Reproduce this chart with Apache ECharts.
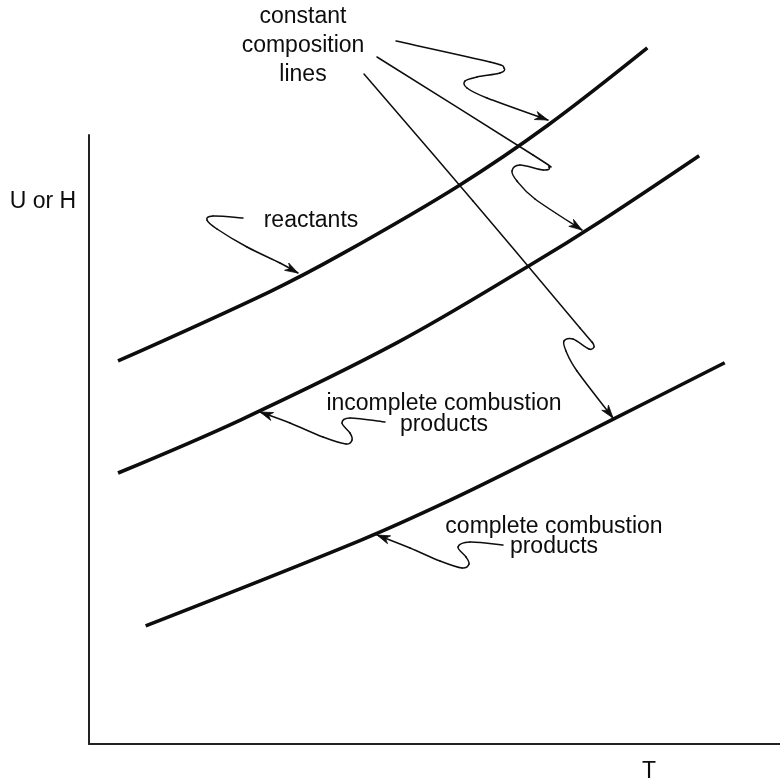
<!DOCTYPE html>
<html>
<head>
<meta charset="utf-8">
<script src="https://cdn.jsdelivr.net/npm/echarts@6/dist/echarts.min.js"></script>
<style>
  html, body { margin: 0; padding: 0; background: #fff; }
  #chart { width: 780px; height: 782px; }
</style>
</head>
<body>
<div id="chart"></div>
<script>
// Internal energy / enthalpy versus temperature for three fixed compositions
const reactantsT  = [4.2, 26.2, 36.8, 53.4, 66.4, 80.8];
const reactantsU  = [62.9, 74.3, 80.6, 91.6, 101.6, 114.3];
const incompleteT = [4.2, 21.9, 44.6, 63.8, 74.0, 88.3];
const incompleteU = [44.5, 53.2, 65.9, 78.6, 85.8, 96.6];
const completeT   = [8.2, 39.2, 52.2, 65.3, 75.8, 92.0];
const completeU   = [19.4, 33.4, 40.0, 47.3, 53.3, 62.6];

const axisTitleY = 'U or H';
const axisTitleX = 'T';

const FONT = '"Liberation Sans", Arial, Helvetica, sans-serif';
const INK = '#0d0d0d';

function pairs(xs, ys) { return xs.map((x, i) => [x, ys[i]]); }

// Callout leader paths (screen pixels) ending in an arrowhead
const callouts = [
  [[396,41],[490,62],[504,68],[500,73],[477,77],[465,81],[467,88],[487,98],[548,120]],
  [[377,57],[533,155],[549,167],[543,170],[520,165],[512,171],[517,181],[535,199],[582,230]],
  [[364,74],[473,201],[580,328],[592,342],[594,347],[589,349],[573,339],[564,341],[566,351],[577,371],[613,418]],
  [[243,218],[213,216],[207,220],[217,229],[247,247],[280,263],[298,273]],
  [[385,422],[350,418],[342,423],[350,433],[352,440],[346,444],[323,437],[290,423],[260,412]],
  [[503,545],[470,542],[458,547],[466,557],[469,564],[462,568],[440,561],[410,548],[377,535]]
];

// Catmull-Rom spline through the points, as cubic Bezier segments
function bezierSegments(pts) {
  const segs = [];
  for (let i = 0; i < pts.length - 1; i++) {
    const p0 = pts[Math.max(i - 1, 0)], p1 = pts[i], p2 = pts[i + 1];
    const p3 = pts[Math.min(i + 2, pts.length - 1)];
    segs.push({
      x1: p1[0], y1: p1[1], x2: p2[0], y2: p2[1],
      cpx1: p1[0] + (p2[0] - p0[0]) / 6, cpy1: p1[1] + (p2[1] - p0[1]) / 6,
      cpx2: p2[0] - (p3[0] - p1[0]) / 6, cpy2: p2[1] - (p3[1] - p1[1]) / 6
    });
  }
  return segs;
}

function arrowHead(pts) {
  const tip = pts[pts.length - 1], prev = pts[pts.length - 2];
  let ux = tip[0] - prev[0], uy = tip[1] - prev[1];
  const len = Math.hypot(ux, uy); ux /= len; uy /= len;
  const L = 13, W = 4.2;
  const bx = tip[0] - ux * L, by = tip[1] - uy * L;
  const nx = -uy, ny = ux;
  return [
    tip,
    [bx + nx * W, by + ny * W],
    [tip[0] - ux * L * 0.7, tip[1] - uy * L * 0.7],
    [bx - nx * W, by - ny * W]
  ];
}

const graphics = [];
callouts.forEach(pts => {
  bezierSegments(pts).forEach(seg => {
    graphics.push({
      type: 'bezierCurve', silent: true, shape: seg,
      style: { stroke: INK, lineWidth: 1.5, fill: null, lineCap: 'round' }
    });
  });
  graphics.push({
    type: 'polygon', silent: true,
    shape: { points: arrowHead(pts) },
    style: { fill: INK, stroke: INK, lineWidth: 0.8 }
  });
});

function label(text, x, y, lineHeight) {
  return {
    type: 'text', silent: true, x: x, y: y,
    style: {
      text: text, fill: INK, fontSize: 23, fontFamily: FONT,
      align: 'center', verticalAlign: 'middle', lineHeight: lineHeight || 23
    }
  };
}
graphics.push(label('constant\ncomposition\nlines', 303, 46, 29));
graphics.push(label('reactants', 311, 221));
graphics.push(label('incomplete combustion\nproducts', 444, 414, 21));
graphics.push(label('complete combustion\nproducts', 554, 537, 20));
graphics.push(label(axisTitleY, 43, 202));
graphics.push(label(axisTitleX, 649, 772));

const curveStyle = { color: INK, width: 3.6 };
function curve(name, xs, ys) {
  return {
    name: name, type: 'line', data: pairs(xs, ys),
    smooth: 0.35, showSymbol: false, clip: false, silent: true,
    lineStyle: curveStyle, itemStyle: { color: INK }
  };
}

const chart = echarts.init(document.getElementById('chart'), null, { renderer: 'canvas' });
chart.setOption({
  animation: false,
  backgroundColor: '#fff',
  grid: { left: 89, top: 135, right: 0, bottom: 38 },
  xAxis: {
    type: 'value', min: 0, max: 100,
    axisLine: { show: true, onZero: false, lineStyle: { color: '#222', width: 2 } },
    axisTick: { show: false }, axisLabel: { show: false }, splitLine: { show: false }
  },
  yAxis: {
    type: 'value', min: 0, max: 100,
    axisLine: { show: true, onZero: false, lineStyle: { color: '#222', width: 2 } },
    axisTick: { show: false }, axisLabel: { show: false }, splitLine: { show: false }
  },
  series: [
    curve('reactants', reactantsT, reactantsU),
    curve('incomplete combustion products', incompleteT, incompleteU),
    curve('complete combustion products', completeT, completeU)
  ],
  graphic: graphics
});
</script>
</body>
</html>
